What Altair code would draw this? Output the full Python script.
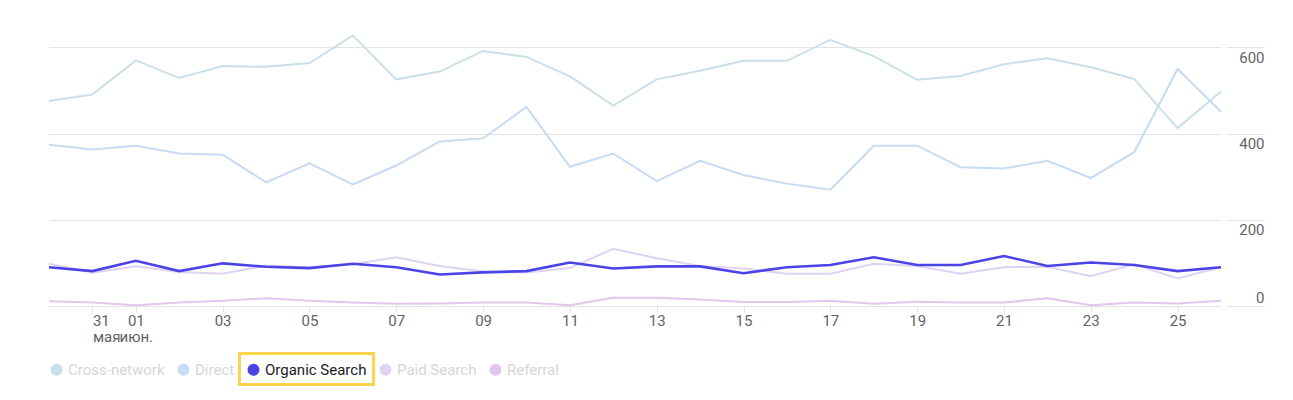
import altair as alt
import pandas as pd

dates = pd.date_range("2024-05-30", "2024-06-26", freq="D").strftime("%Y-%m-%dT00:00:00").tolist()

series_names = ["Cross-network", "Direct", "Organic Search", "Paid Search", "Referral"]
series_colors = ["#c9e0ea", "#c6dbf4", "#4a43e6", "#e0d2f3", "#e2c6ec"]

cross_network = [476, 491, 570, 529, 557, 555, 564, 628, 526, 544, 592, 578, 533, 465,
                 526, 546, 569, 569, 618, 580, 525, 534, 561, 575, 554, 527, 413, 498]
direct = [374, 363, 372, 354, 351, 287, 331, 282, 326, 382, 389, 462, 323, 354,
          290, 337, 304, 284, 270, 372, 372, 322, 319, 337, 297, 357, 550, 451]
organic = [90, 81, 105, 81, 99, 91, 88, 98, 90, 73, 78, 81, 101, 87,
           92, 92, 76, 90, 95, 113, 95, 95, 116, 93, 101, 95, 81, 90]
paid = [98, 77, 92, 79, 75, 94, 90, 97, 113, 93, 80, 78, 88, 133,
        111, 93, 87, 75, 75, 98, 93, 75, 90, 91, 69, 97, 64, 90]
referral = [11, 8, 2, 8, 12, 18, 12, 8, 5, 6, 8, 8, 2, 19,
            19, 15, 9, 9, 12, 5, 10, 8, 8, 18, 2, 8, 6, 12]

y_ticks = [0, 200, 400, 600]
x_tick_days = [(5, 31)] + [(6, d) for d in range(1, 26, 2)]

rows = []
for name, vals in zip(series_names, [cross_network, direct, organic, paid, referral]):
    for d, v in zip(dates, vals):
        rows.append({"date": d, "series": name, "value": v})
df = pd.DataFrame(rows)

GRID = "#e4e4e4"
FONT = "Roboto"

color_scale = alt.Scale(domain=series_names, range=series_colors)

x_enc = alt.X(
    "date:T",
    scale=alt.Scale(nice=False, padding=0),
    axis=alt.Axis(
        title=None,
        values=[alt.DateTime(year=2024, month=m, date=d) for m, d in x_tick_days],
        labelExpr="date(datum.value) == 31 ? ['31', 'мая'] : (date(datum.value) == 1 && month(datum.value) == 5 ? ['01', 'июн.'] : timeFormat(datum.value, '%d'))",
        labelAlign={"condition": {"test": "date(datum.value) == 31", "value": "left"}, "value": "center"},
        labelOverlap=False,
        labelFlush=False,
        labelBound=False,
        labelFont=FONT,
        labelFontSize=15,
        labelColor="#5f6368",
        labelLineHeight=16,
        labelPadding=1,
        domain=False,
        grid=False,
        ticks=True,
        tickSize=6,
        tickColor=GRID,
    ),
)

y_enc = alt.Y(
    "value:Q",
    scale=alt.Scale(domain=[0, 680], nice=False),
    axis=alt.Axis(
        title=None,
        orient="right",
        values=y_ticks,
        grid=True,
        gridColor=GRID,
        domain=False,
        ticks=True,
        tickSize=38,
        tickColor=GRID,
        offset=5,
        labelAlign="right",
        labelPadding=0,
        labelBaseline="alphabetic",
        labelOffset={"condition": {"test": "datum.value == 0", "value": -4}, "value": 15},
        labelFont=FONT,
        labelFontSize=15,
        labelColor="#5f6368",
        labelFlush=False,
    ),
)

legend = alt.Legend(
    title=None,
    orient="none",
    legendX=0,
    legendY=349,
    direction="horizontal",
    symbolType="circle",
    symbolSize=36,
    symbolStrokeWidth=6,
    symbolOpacity=1,
    labelFont=FONT,
    labelFontSize=15,
    labelColor={"expr": "datum.label == 'Organic Search' ? '#202124' : '#d6d6d6'"},
    labelOffset=4,
    columnPadding=3,
    padding=0,
)

base = alt.Chart(df)

light = base.transform_filter(alt.datum.series != "Organic Search").mark_line(strokeWidth=2).encode(
    x=x_enc,
    y=y_enc,
    color=alt.Color("series:N", scale=color_scale, legend=legend),
    detail="series:N",
)

dark = base.transform_filter(alt.datum.series == "Organic Search").mark_line(strokeWidth=2.6).encode(
    x=x_enc,
    y=y_enc,
    color=alt.Color("series:N", scale=color_scale, legend=legend),
)

highlight = alt.Chart(pd.DataFrame({"k": [0]})).mark_rect(
    fillOpacity=0, stroke="#fbd34d", strokeWidth=3
).encode(
    x=alt.value(190.5), x2=alt.value(324.5), y=alt.value(340.5), y2=alt.value(371.5)
)

chart = alt.layer(light, dark, highlight).properties(
    width=1172,
    height=293,
    autosize=alt.AutoSizeParams(type="none"),
    padding={"left": 41, "top": 5, "right": 55, "bottom": 80},
).configure_view(stroke=None)

chart.save("out.html", embed_options={"renderer": "svg", "actions": False})
